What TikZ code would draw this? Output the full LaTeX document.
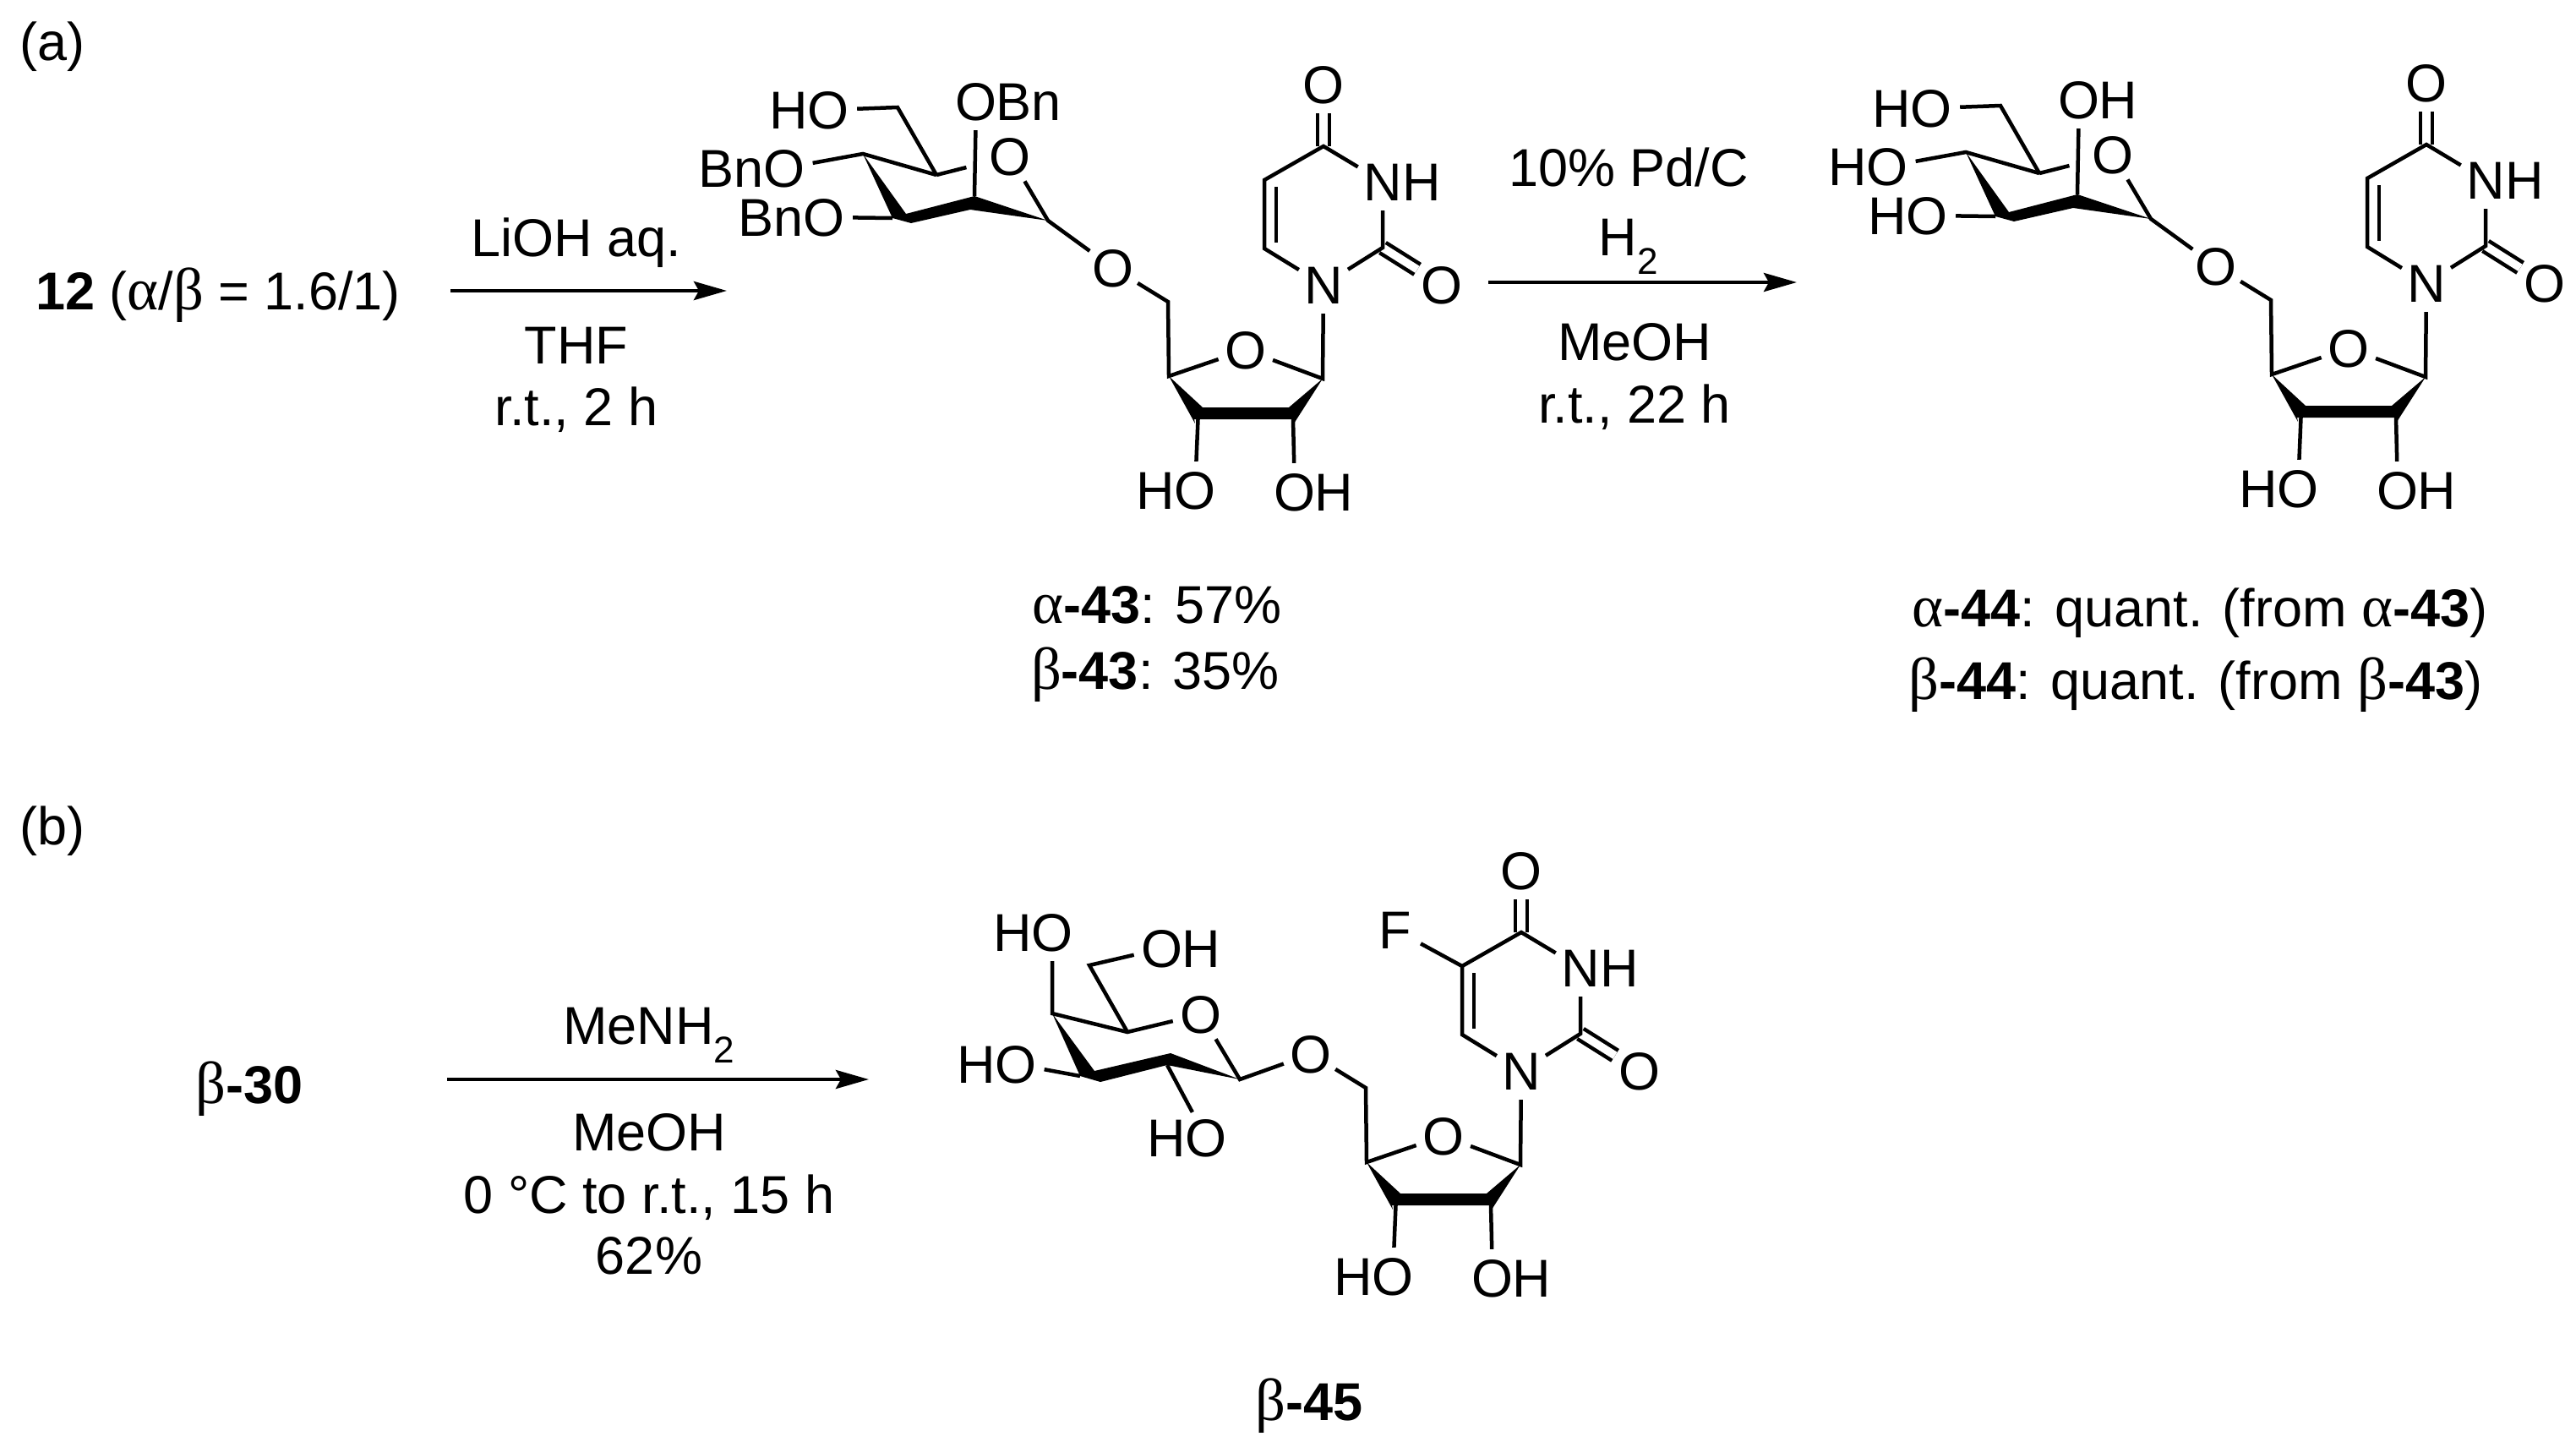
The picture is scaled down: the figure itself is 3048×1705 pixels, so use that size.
\documentclass[tikz,border=0pt]{standalone}
\usepackage{fontspec}
\setmainfont{Liberation Sans}
\newfontfamily\greekfont[Scale=1.12]{Liberation Serif}
\usetikzlibrary{arrows.meta}
\tikzset{
bond/.style={line width=4.5pt},
dbond/.style={bond, double, double distance=9.5pt},
atom/.style={
	  circle, inner sep=0pt, minimum size=68pt, text height=45pt, text depth=0pt},
lbl/.style={inner sep=0pt, text height=45pt, text depth=0pt},
txt/.style={inner sep=0pt, text height=45pt, text depth=0pt},
wleft/.style={label={[lbl, xshift=10pt]west:#1}},
wright/.style={label={[lbl, xshift=-10.5pt]east:#1}},
rxn/.style={line width=4.5pt, -{Stealth[length=39pt, width=22pt, inset=6pt]}}
}
\newcommand{\ga}{{\greekfont α}}
\newcommand{\gb}{{\greekfont β}}
\newcommand{\uridine}{
	\coordinate (cfour) at (1566,173);
	\coordinate (cfive) at (1496,213);
	\coordinate (csix) at (1496,294);
	\coordinate (ctwo) at (1636,293);
	\coordinate (cfivein) at (1510,221);
	\coordinate (csixin) at (1510,287);
	\coordinate (conep) at (1565,448);
	\coordinate (cfourp) at (1383,445);
	\coordinate (cfivep) at (1382,357);
	\node[atom] (ofour) at (1566,100) {O};
	\node[atom, wright=H] (nthree) at (1636,215) {N};
	\node[atom] (otwo) at (1706,337) {O};
	\node[atom] (none) at (1566,337) {N};
	\node[atom] (oring) at (1474,414) {O};
	\node[atom] (olink) at (1317,317) {O};
	\node[atom, wleft=H] (othree) at (1414,580) {O};
	\node[atom, wright=H] (otwop) at (1532,582) {O};
	\draw[dbond] (cfour) -- (ofour);
	\draw[dbond] (ctwo) -- (otwo);
	\draw[bond] (nthree) -- (cfour) -- (cfive) -- (csix) -- (none) -- (ctwo) -- (nthree);
	\draw[bond] (cfivein) -- (csixin);
	\draw[bond] (none) -- (conep) -- (oring) -- (cfourp) -- (cfivep) -- (olink);
	% thick front of the furanose
	\fill (cfourp) -- (1423,482) -- (1525,482) -- (conep) -- (1531,501) -- (1531,496)
		-- (1413,496) -- (1414,501) -- cycle;
	\draw[bond] (1417.5,496) -- (othree);
	\draw[bond] (1530,496) -- (otwop);
}
\newcommand{\axsugar}[1]{
	\coordinate (gone) at (1240,261);
	\coordinate (gfive) at (1108,207);
	\coordinate (gsix) at (1062,127);
	\coordinate (gfour) at (1021,182);
	\coordinate (gthree) at (1072,253);
	\coordinate (gthreeb) at (1056,258);
	\coordinate (gthreec) at (1078,264);
	\coordinate (gtwo) at (1153,232);
	\coordinate (gtwob) at (1148,248);
	\node[atom] (oglc) at (1195,185) {O};
	\node[atom, wleft=H] (osix) at (980,130) {O};
	\node[atom, wleft=#1] (ofourg) at (928,199) {O};
	\node[atom, wleft=#1] (othreeg) at (975,257) {O};
	\node[atom, wright=#1] (otwog) at (1155,120) {O};
	\draw[bond] (olink) -- (gone) -- (oglc);
	\draw[bond, shorten >=19pt] (gfive) -- (oglc);
	\draw[bond] (gfive) -- (gfour) -- (ofourg);
	\draw[bond] (gfive) -- (gsix) -- (osix);
	\draw[bond] (gtwo) -- (otwog);
	\draw[bond] (gthreeb) -- (othreeg);
	% thick front of the pyranose
	\fill (gfour) -- (gthree) -- (gtwo) -- (gone) -- (gtwob) -- (gthreec) -- (gthreeb) -- cycle;
}

\begin{document}
\begin{tikzpicture}[x=1pt, y=-1pt, font=\fontsize{63}{76}\selectfont]
	\useasboundingbox (0,0) rectangle (3048,1705);
	% scheme (a)
	\node[txt] (parta) at (62,49) {(a)};
	\node[txt] (sm) at (258,344) {\textbf{12} (\ga/\gb\ = 1.6/1)};
	\coordinate (arrastart) at (533,344);
	\coordinate (arraend) at (860,344);
	\draw[rxn] (arrastart) -- (arraend);
	\node[txt] (lioh) at (682,281) {LiOH aq.};
	\node[txt] (thf) at (682,408) {THF};
	\node[txt] (rta) at (682,481) {r.t., 2 h};
	\begin{scope}[name prefix=a-]
		\uridine
		\axsugar{Bn}
	\end{scope}
	\node[txt] (alphafortythree) at (1369,715) {\ga\textbf{-43}: 57\%};
	\node[txt] (betafortythree) at (1367,793) {\gb\textbf{-43}: 35\%};
	\coordinate (arrbstart) at (1761,334);
	\coordinate (arrbend) at (2126,334);
	\draw[rxn] (arrbstart) -- (arrbend);
	\node[txt] (pdc) at (1927,198) {10\% Pd/C};
	\node[txt] (htwo) at (1927,280) {H\textsubscript{2}};
	\node[txt] (meoha) at (1934,404) {MeOH};
	\node[txt] (rtb) at (1934,478) {r.t., 22 h};
	\begin{scope}[shift={(1305,-2)}, name prefix=b-]
		\uridine
		\axsugar{H}
	\end{scope}
	\node[txt] (alphafortyfour) at (2603,719) {\ga\textbf{-44}: quant. (from \ga\textbf{-43})};
	\node[txt] (betafortyfour) at (2598,805) {\gb\textbf{-44}: quant. (from \gb\textbf{-43})};
	% scheme (b)
	\node[txt] (partb) at (62,977) {(b)};
	\node[txt] (thirty) at (295,1283) {\gb\textbf{-30}};
	\coordinate (arrcstart) at (529,1277);
	\coordinate (arrcend) at (1028,1277);
	\draw[rxn] (arrcstart) -- (arrcend);
	\node[txt] (menh) at (768,1213) {MeNH\textsubscript{2}};
	\node[txt] (meohb) at (768,1339) {MeOH};
	\node[txt] (tempc) at (768,1413) {0 °C to r.t., 15 h};
	\node[txt] (yieldc) at (768,1485) {62\%};
	\begin{scope}[shift={(234,930)}, name prefix=d-]
		\uridine
	\end{scope}
	\coordinate (hone) at (1467,1277);
	\coordinate (hfive) at (1334,1221);
	\coordinate (hsix) at (1289,1142);
	\coordinate (hfour) at (1245,1199);
	\coordinate (hthree) at (1295,1267);
	\coordinate (hthreeb) at (1278,1273);
	\coordinate (hthreec) at (1302,1280);
	\coordinate (htwotop) at (1385,1246);
	\coordinate (htwob) at (1381,1260);
	\node[atom] (fluoro) at (1651,1100) {F};
	\node[atom] (ohring) at (1421,1200) {O};
	\node[atom, wright=H] (ohsix) at (1375,1122) {O};
	\node[atom, wleft=H] (ohfour) at (1245,1103) {O};
	\node[atom, wleft=H] (ohthree) at (1202,1259) {O};
	\node[atom, wleft=H] (ohtwo) at (1427,1346) {O};
	\draw[bond] (d-cfive) -- (fluoro);
	\draw[bond] (d-olink) -- (hone) -- (ohring) -- (hfive) -- (hfour) -- (ohfour);
	\draw[bond] (hfive) -- (hsix) -- (ohsix);
	\draw[bond] (htwob) -- (ohtwo);
	\draw[bond] (hthreeb) -- (ohthree);
	\fill (hfour) -- (hthree) -- (htwotop) -- (hone) -- (htwob) -- (hthreec) -- (hthreeb) -- cycle;
	\node[txt] (betafortyfive) at (1549,1658) {\gb\textbf{-45}};
\end{tikzpicture}
\end{document}
